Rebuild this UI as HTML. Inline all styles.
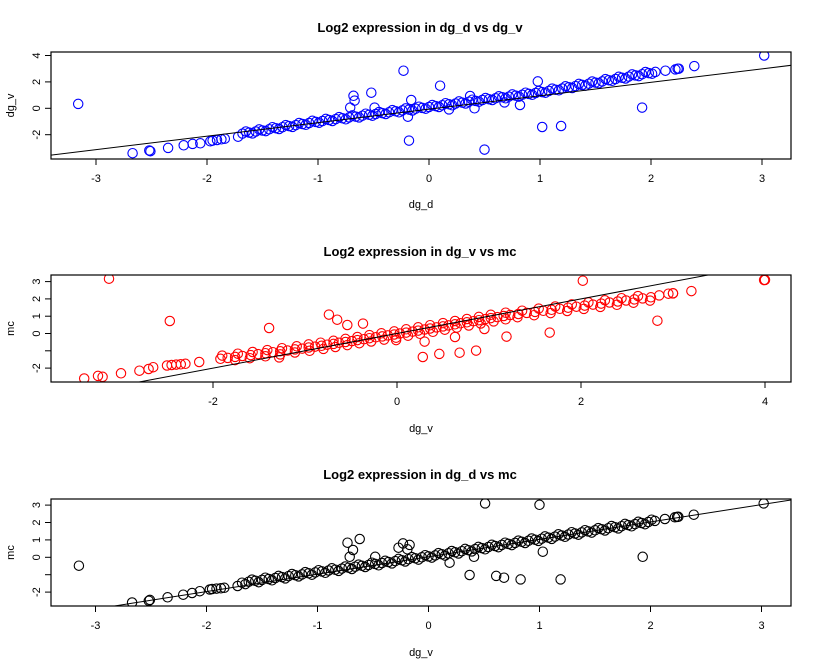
<!DOCTYPE html>
<html><head><meta charset="utf-8"><style>
body{margin:0;background:#fff}
svg{display:block;font-family:"Liberation Sans",Arial,sans-serif}
</style></head><body>
<svg id="chart" width="818" height="671" viewBox="0 0 818 671" xmlns="http://www.w3.org/2000/svg"></svg>
<script>
// shared gene values (main band)
const dg_d = [-2.67,-2.52,-2.51,-2.35,-2.21,-2.13,-2.06,-1.97,-1.95,-1.91,-1.87,-1.84,-1.72,
-1.68,-1.62,-1.56,-1.50,-1.44,-1.38,-1.32,-1.26,-1.20,-1.14,-1.08,-1.02,-0.96,-0.90,-0.84,-0.78,-0.72,-0.66,-0.60,-0.54,-0.48,-0.42,-0.36,-0.30,-0.24,-0.18,-0.12,-0.06,0.00,0.06,0.12,0.18,0.24,0.30,0.36,0.42,0.48,0.54,0.60,0.66,0.72,0.78,0.84,0.90,0.96,1.02,1.08,1.14,1.20,1.26,1.32,1.38,1.44,1.50,1.56,1.62,1.68,1.74,1.80,1.86,1.92,1.98,2.04,
2.13,2.22,2.24,2.25,2.39,3.02];
const dg_v = [-3.4,-3.2,-3.25,-3.0,-2.8,-2.7,-2.65,-2.5,-2.45,-2.4,-2.35,-2.3,-2.15,
-1.92,-1.84,-1.76,-1.68,-1.59,-1.51,-1.43,-1.35,-1.27,-1.19,-1.11,-1.03,-0.96,-0.89,-0.82,-0.76,-0.69,-0.63,-0.56,-0.49,-0.43,-0.36,-0.30,-0.23,-0.16,-0.10,-0.03,0.03,0.10,0.17,0.23,0.30,0.36,0.43,0.50,0.56,0.63,0.69,0.76,0.83,0.89,0.96,1.02,1.09,1.16,1.23,1.32,1.41,1.50,1.59,1.68,1.77,1.86,1.95,2.04,2.13,2.22,2.31,2.40,2.49,2.58,2.67,2.76,
2.85,2.95,3.0,3.0,3.2,4.0];
const mc = [-2.6,-2.5,-2.45,-2.3,-2.15,-2.05,-1.95,-1.85,-1.82,-1.8,-1.78,-1.75,-1.65,
-1.46,-1.41,-1.35,-1.30,-1.25,-1.19,-1.14,-1.08,-1.03,-0.98,-0.92,-0.87,-0.81,-0.76,-0.71,-0.65,-0.60,-0.54,-0.49,-0.44,-0.38,-0.33,-0.27,-0.22,-0.17,-0.11,-0.06,0.00,0.05,0.11,0.17,0.23,0.29,0.35,0.41,0.47,0.53,0.59,0.65,0.71,0.77,0.83,0.89,0.95,1.01,1.07,1.13,1.19,1.25,1.31,1.37,1.43,1.49,1.55,1.61,1.67,1.73,1.79,1.85,1.91,1.97,2.03,2.09,
2.2,2.3,2.32,2.33,2.45,3.1];
// second batch of genes in the dense band
const dg_d2 = [-1.65,-1.59,-1.53,-1.47,-1.41,-1.35,-1.29,-1.23,-1.17,-1.11,-1.05,-0.99,-0.93,-0.87,-0.81,-0.75,-0.69,-0.63,-0.57,-0.51,-0.45,-0.39,-0.33,-0.27,-0.21,-0.15,-0.09,-0.03,0.03,0.09,0.15,0.21,0.27,0.33,0.39,0.45,0.51,0.57,0.63,0.69,0.75,0.81,0.87,0.93,0.99,1.05,1.11,1.17,1.23,1.29,1.35,1.41,1.47,1.53,1.59,1.65,1.71,1.77,1.83,1.89,1.95,2.01];
const dg_v2 = [-1.76,-1.90,-1.60,-1.73,-1.43,-1.57,-1.27,-1.41,-1.11,-1.25,-0.95,-1.09,-0.80,-0.96,-0.67,-0.83,-0.54,-0.69,-0.41,-0.56,-0.28,-0.43,-0.14,-0.30,-0.01,-0.17,0.12,-0.03,0.25,0.10,0.39,0.23,0.52,0.36,0.65,0.50,0.78,0.63,0.91,0.76,1.05,0.89,1.18,1.02,1.31,1.18,1.49,1.36,1.67,1.54,1.85,1.72,2.03,1.90,2.21,2.08,2.39,2.26,2.57,2.44,2.75,2.62];
const mc2 = [-1.54,-1.28,-1.43,-1.17,-1.32,-1.07,-1.21,-0.96,-1.10,-0.85,-1.00,-0.74,-0.89,-0.63,-0.78,-0.53,-0.67,-0.42,-0.56,-0.31,-0.46,-0.20,-0.35,-0.09,-0.24,0.01,-0.13,0.12,-0.02,0.24,0.10,0.36,0.22,0.48,0.34,0.60,0.46,0.72,0.58,0.84,0.70,0.96,0.82,1.08,0.94,1.20,1.06,1.32,1.18,1.44,1.30,1.56,1.42,1.68,1.54,1.80,1.66,1.92,1.78,2.04,1.90,2.16];
// outliers per panel
const out1X = [-3.16,-0.23,-0.68,-0.67,-0.71,-0.52,-0.49,-0.16,-0.19,-0.18,0.10,0.18,0.37,0.41,0.50,0.68,0.82,0.98,1.02,1.19,1.92];
const out1Y = [0.33,2.85,0.95,0.58,0.05,1.18,0.05,0.63,-0.64,-2.45,1.71,-0.08,0.93,0.00,-3.13,0.45,0.25,2.04,-1.42,-1.34,0.05];
const out2X = [2.02,3.99,2.83,-0.01,0.30,0.28,0.46,0.63,0.68,0.86,0.95,1.19,1.66,-3.13,-2.47,-1.39,-1.28,-0.74,-0.65,-0.54,-0.37];
const out2Y = [3.05,3.09,0.74,-0.38,-0.47,-1.36,-1.18,-0.20,-1.11,-0.99,0.26,-0.18,0.05,3.17,0.72,0.32,-1.38,1.09,0.80,0.49,0.57];
const out3X = [0.51,1.00,1.03,0.19,0.41,0.37,0.61,0.68,0.83,1.19,1.93,-3.15,-0.73,-0.62,-0.71,-0.68,-0.48,-0.27,-0.23,-0.17,-0.19];
const out3Y = [3.10,3.02,0.32,-0.31,0.03,-1.02,-1.07,-1.17,-1.27,-1.27,0.03,-0.48,0.84,1.05,0.03,0.42,0.03,0.55,0.80,0.71,0.46];
// tick labels
const ticks1X = [-3,-2,-1,0,1,2,3];
const ticks1Y = [-2,0,2,4];
const ticks2X = [-2,0,2,4];
const ticks2Y = [-2,-1,0,1,2,3];
const ticks2YLabels = ["-2","","0","1","2","3"];
const ticks3X = [-3,-2,-1,0,1,2,3];
const ticks3Y = [-2,-1,0,1,2,3];
const ticks3YLabels = ["-2","","0","1","2","3"];
// regression lines [intercept, slope]
const fit1 = [-0.07,1.02];
const fit2 = [0.0,1.0];
const fit3 = [0.03,1.0];

const NS="http://www.w3.org/2000/svg";
const svg=document.getElementById('chart');
function mk(tag,attrs,parent){const e=document.createElementNS(NS,tag);for(const k in attrs)e.setAttribute(k,attrs[k]);(parent||svg).appendChild(e);return e;}

function panel(p){
  const g=mk('g',{});
  
  
  const L=51,R=791,T=p.top,B=p.bottom;
  const sx=v=>p.x0+v*p.xs, sy=v=>p.y0-v*p.ys;
  const t=mk('text',{x:420,y:p.titleY,'text-anchor':'middle','font-size':'13','font-weight':'bold',fill:'#000'},g);
  t.textContent=p.title;
  
  
  const cid='clip'+p.id;
  const cp=mk('clipPath',{id:cid},g);mk('rect',{x:L,y:T,width:R-L,height:B-T},cp);
  const pts=mk('g',{'clip-path':'url(#'+cid+')'},g);
  
  
  const allX=p.xs_data.concat(p.ox), allY=p.ys_data.concat(p.oy);
  for(let i=0;i<allX.length;i++){
    const c=mk('circle',{cx:sx(allX[i]).toFixed(1),cy:sy(allY[i]).toFixed(1),r:4.7,fill:'none',stroke:p.color,'stroke-width':1.1},pts);
    
    
  }
  const xa=-5,xb=6;
  const ln=mk('line',{x1:sx(xa),y1:sy(p.fit[0]+p.fit[1]*xa),x2:sx(xb),y2:sy(p.fit[0]+p.fit[1]*xb),stroke:'#000','stroke-width':1,'clip-path':'url(#'+cid+')'},g);
  
  
  const box=mk('rect',{x:L,y:T,width:R-L,height:B-T,fill:'none',stroke:'#000','stroke-width':1.2},g);
  
  
  const xax=mk('g',{},g);
  
  
  mk('line',{x1:sx(p.tx[0]),y1:B,x2:sx(p.tx[p.tx.length-1]),y2:B,stroke:'#000'},xax);
  p.tx.forEach(v=>{
    mk('line',{x1:sx(v),y1:B,x2:sx(v),y2:B+6,stroke:'#000'},xax);
    const tt=mk('text',{x:sx(v),y:B+23,'text-anchor':'middle','font-size':'11',fill:'#000'},xax);
    tt.textContent=v;
    
    
  });
  const xl=mk('text',{x:421,y:p.xlabY,'text-anchor':'middle','font-size':'11',fill:'#000'},g);
  xl.textContent=p.xlab;
  
  
  const yax=mk('g',{},g);
  
  
  mk('line',{x1:L,y1:sy(p.ty[0]),x2:L,y2:sy(p.ty[p.ty.length-1]),stroke:'#000'},yax);
  p.ty.forEach((v,i)=>{
    mk('line',{x1:L,y1:sy(v),x2:L-6,y2:sy(v),stroke:'#000'},yax);
    const lab=p.tyl?p.tyl[i]:String(v);
    if(lab!==''){
      const tt=mk('text',{x:0,y:0,'text-anchor':'middle','font-size':'11',fill:'#000',transform:'translate('+(L-11)+','+sy(v)+') rotate(-90)'},yax);
      tt.textContent=lab;
      
      
    }
  });
  const yl=mk('text',{x:0,y:0,'text-anchor':'middle','font-size':'11',fill:'#000',transform:'translate(14,'+((T+B)/2)+') rotate(-90)'},g);
  yl.textContent=p.ylab;
  
  
}

const X1=dg_d.concat(dg_d2), V1=dg_v.concat(dg_v2), M1=mc.concat(mc2);
panel({id:1,name:'panel-dg-d-vs-dg-v',title:'Log2 expression in dg_d vs dg_v',titleY:32,top:52,bottom:159,x0:429,xs:111,y0:108.3,ys:13.2,
  xs_data:X1,ys_data:V1,ox:out1X,oy:out1Y,color:'#0000ff',fit:fit1,tx:ticks1X,ty:ticks1Y,xlab:'dg_d',xlabY:208,ylab:'dg_v'});
panel({id:2,name:'panel-dg-v-vs-mc',title:'Log2 expression in dg_v vs mc',titleY:256,top:275,bottom:382,x0:397,xs:92,y0:333.5,ys:17.3,
  xs_data:V1,ys_data:M1,ox:out2X,oy:out2Y,color:'#ff0000',fit:fit2,tx:ticks2X,ty:ticks2Y,tyl:ticks2YLabels,xlab:'dg_v',xlabY:432,ylab:'mc'});
panel({id:3,name:'panel-dg-d-vs-mc',title:'Log2 expression in dg_d vs mc',titleY:479,top:499,bottom:606,x0:428.5,xs:111,y0:557.3,ys:17.4,
  xs_data:X1,ys_data:M1,ox:out3X,oy:out3Y,color:'#000000',fit:fit3,tx:ticks3X,ty:ticks3Y,tyl:ticks3YLabels,xlab:'dg_v',xlabY:656,ylab:'mc'});
</script>
</body></html>
